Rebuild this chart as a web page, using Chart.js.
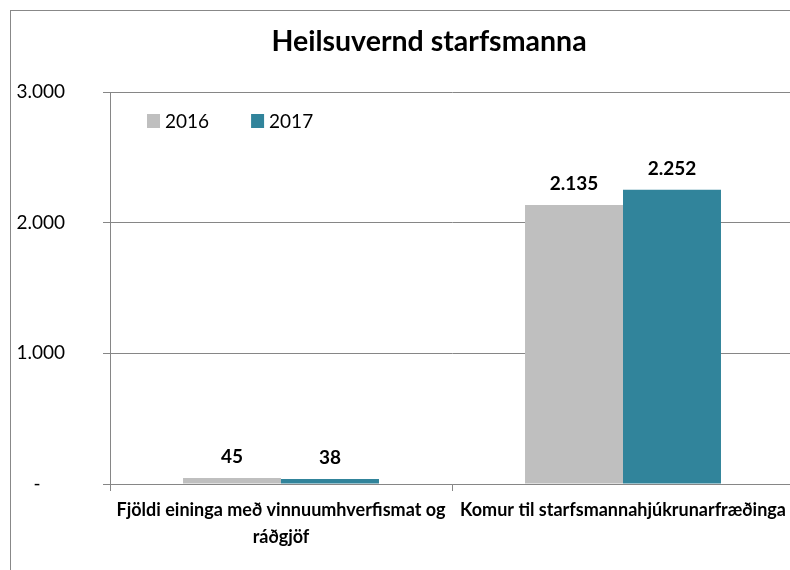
<!DOCTYPE html>
<html>
<head>
<meta charset="utf-8">
<script src="https://cdn.jsdelivr.net/npm/chart.js@4/dist/chart.umd.min.js"></script>
<style>
  html, body { margin: 0; padding: 0; background: #fff; overflow: hidden; width: 790px; height: 570px; }
  #frame { position: absolute; left: 10px; top: 10px; width: 836px; height: 600px; border: 1px solid #888; background: #fff; }
  canvas { display: block; }
</style>
</head>
<body>
<div id="frame"><canvas id="c" width="836" height="600" style="width:836px;height:600px"></canvas></div>
<script>
const categories = [["Fjöldi eininga með vinnuumhverfismat og", "ráðgjöf"], "Komur til starfsmannahjúkrunarfræðinga"];
const seriesNames = ["2016", "2017"];
const values2016 = [45, 2135];
const values2017 = [38, 2252];
const yTicks = [0, 1000, 2000, 3000];
const titleText = "Heilsuvernd starfsmanna";

const FONT = "Lato, 'Liberation Sans', sans-serif";
function fmt(v) {
  return String(Math.round(v)).replace(/\B(?=(\d{3})+(?!\d))/g, ".");
}

const valueLabels = {
  id: 'valueLabels',
  afterDatasetsDraw(chart) {
    const ctx = chart.ctx;
    ctx.save();
    ctx.font = "bold 19px " + FONT;
    ctx.fillStyle = "#000";
    ctx.textAlign = "center";
    ctx.textBaseline = "middle";
    chart.data.datasets.forEach((ds, di) => {
      const meta = chart.getDatasetMeta(di);
      meta.data.forEach((el, i) => {
        ctx.fillText(fmt(ds.data[i]), el.x, el.y - 21);
      });
    });
    ctx.restore();
  }
};

// Legend drawn inside the plot area, top-left, from the datasets' labels and colours
const insideLegend = {
  id: 'insideLegend',
  afterDraw(chart) {
    const ctx = chart.ctx;
    const area = chart.chartArea;
    ctx.save();
    ctx.font = "19px " + FONT;
    ctx.textBaseline = "middle";
    ctx.textAlign = "left";
    let x = area.left + 37;
    const yTop = area.top + 22;
    chart.data.datasets.forEach((ds) => {
      ctx.fillStyle = ds.backgroundColor;
      ctx.fillRect(x, yTop, 13, 14);
      ctx.fillStyle = "#000";
      const tx = x + 18;
      ctx.fillText(ds.label, tx, yTop + 8);
      x = tx + ctx.measureText(ds.label).width + 42;
    });
    ctx.restore();
  }
};

// Center the title over the whole frame rather than the padded box
const titleSpan = {
  id: 'titleSpan',
  afterLayout(chart) {
    if (chart.titleBlock) {
      chart.titleBlock.left = 0;
      chart.titleBlock.right = chart.width;
    }
  }
};

new Chart(document.getElementById('c'), {
  type: 'bar',
  data: {
    labels: categories,
    datasets: [
      { label: seriesNames[0], data: values2016, backgroundColor: '#BFBFBF', borderWidth: 0 },
      { label: seriesNames[1], data: values2017, backgroundColor: '#31849B', borderWidth: 0 }
    ]
  },
  options: {
    responsive: false,
    animation: false,
    devicePixelRatio: 1,
    layout: { padding: { left: 0, right: 53, top: 0, bottom: 0 } },
    datasets: { bar: { barPercentage: 1, categoryPercentage: 0.573 } },
    plugins: {
      title: {
        display: true,
        text: titleText,
        color: '#000',
        font: { family: FONT, size: 28.5, weight: 'bold', lineHeight: 1.2 },
        padding: { top: 13.9, bottom: 32.9 }
      },
      legend: { display: false },
      tooltip: { enabled: false }
    },
    scales: {
      x: {
        offset: true,
        grid: { offset: true, drawOnChartArea: false, drawTicks: true, tickLength: 7, color: '#868686' },
        border: { display: true, color: '#868686' },
        ticks: {
          color: '#000',
          font: { family: FONT, size: 18, weight: 'bold', lineHeight: 1.5 },
          maxRotation: 0, minRotation: 0, autoSkip: false, padding: 6
        },
        afterFit(scale) { scale.height = 127; }
      },
      y: {
        min: 0, max: 3000,
        afterBuildTicks(scale) { scale.ticks = yTicks.map(v => ({ value: v })); },
        grid: { color: '#868686', tickLength: 7, drawTicks: true },
        border: { display: true, color: '#868686' },
        ticks: {
          color: '#000',
          padding: 38,
          font: { family: FONT, size: 19 },
          callback: (v) => v === 0 ? '-     ' : fmt(v)
        },
        afterFit(scale) { scale.width = 99; }
      }
    }
  },
  plugins: [valueLabels, insideLegend, titleSpan]
});
</script>
</body>
</html>
